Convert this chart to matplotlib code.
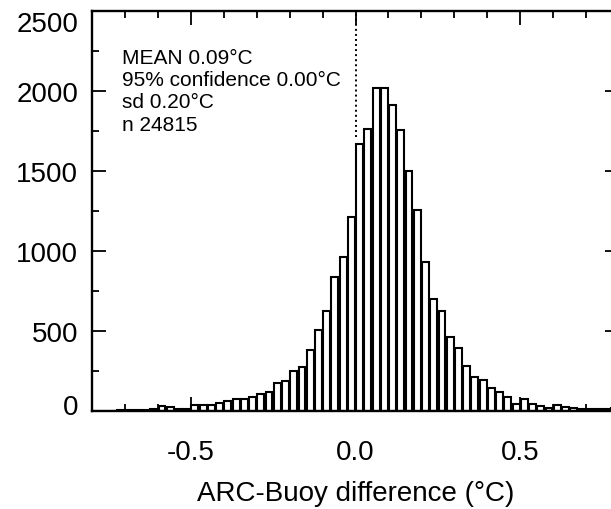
import numpy as np
import matplotlib
matplotlib.use("Agg")
import matplotlib.pyplot as plt
import matplotlib.transforms as mtransforms
from matplotlib.ticker import MultipleLocator

plt.rcParams['font.family'] = ['Liberation Sans', 'DejaVu Sans']

# histogram of ARC - buoy differences, bins of 0.025 from -0.8 to 0.8
bin_edges = np.linspace(-0.8, 0.8, 65)
counts = [3, 2, 3, 5, 9, 6, 8, 12, 30, 28, 14, 13,
          35, 37, 40, 52, 63, 75, 76, 90, 108, 121, 178, 186,
          251, 274, 382, 507, 626, 836, 960, 1215,
          1669, 1762, 2019, 2019, 1912, 1756, 1500, 1258,
          933, 700, 623, 460, 392, 283, 215, 196,
          142, 120, 90, 44, 75, 42, 32, 20,
          40, 25, 17, 14, 12, 12, 15, 20]
stats_lines = ["MEAN 0.09\u00b0C", "95% confidence 0.00\u00b0C", "sd 0.20\u00b0C", "n 24815"]
mean_line_top = 1710
y_ticks = [0, 500, 1000, 1500, 2000, 2500]

fig = plt.figure(figsize=(6.11, 5.10), dpi=100)
ax = fig.add_axes([92 / 611, 98 / 510, 527 / 611, 400 / 510])

bw = bin_edges[1] - bin_edges[0]
centers = bin_edges[:-1] + bw / 2
ax.bar(centers, counts, width=bw * 0.84, color='white', edgecolor='black', linewidth=1.5)

ax.vlines(0.0, mean_line_top, 2500, colors='black', linestyles=(0, (1, 1.6)), linewidth=1.4)

for i, s in enumerate(stats_lines):
    ax.text(-0.71, 2212 - i * 140, s, fontsize=15, va='center', ha='left')

ax.set_xlim(-0.8, 0.8)
ax.set_ylim(0, 2500)
ax.xaxis.set_minor_locator(MultipleLocator(0.1))
ax.yaxis.set_minor_locator(MultipleLocator(250))
ax.set_xticks([-0.5, 0.0, 0.5])
ax.set_xticklabels(["-0.5", "0.0", "0.5"])
ax.set_yticks(y_ticks)
ax.set_yticklabels([str(v) for v in y_ticks])
ax.tick_params(which='both', direction='in', top=True, right=True, width=1.3, labelsize=20)
ax.tick_params(which='major', length=10)
ax.tick_params(which='minor', length=5)
ax.tick_params(axis='x', pad=20)
ax.tick_params(axis='y', pad=10)
for sp in ax.spines.values():
    sp.set_linewidth(1.7)

ax.set_xlabel("ARC-Buoy difference (\u00b0C)", fontsize=20, labelpad=11)

# nudge end labels like the original (top one down, bottom one up)
for lab in ax.get_yticklabels():
    if lab.get_text() == '2500':
        lab.set_transform(lab.get_transform() + mtransforms.ScaledTranslation(0, -7 / 72, fig.dpi_scale_trans))
    elif lab.get_text() == '0':
        lab.set_transform(lab.get_transform() + mtransforms.ScaledTranslation(0, 5 / 72, fig.dpi_scale_trans))

fig.savefig("out.png", dpi=100)
